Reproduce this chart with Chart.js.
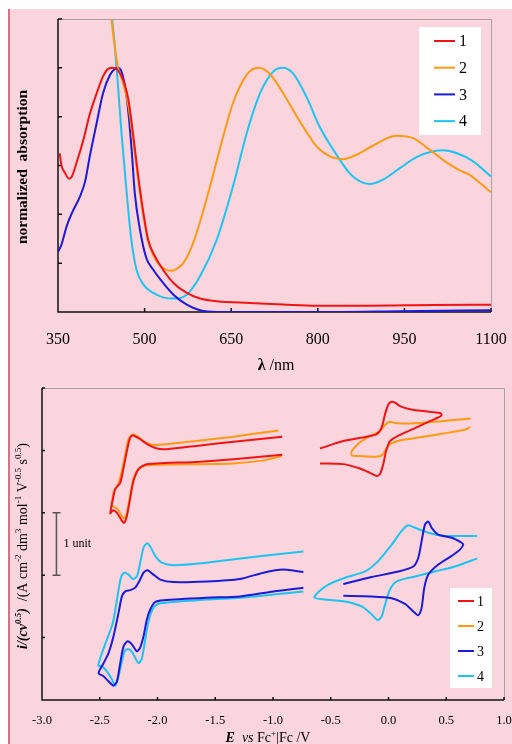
<!DOCTYPE html>
<html>
<head>
<meta charset="utf-8">
<script src="https://cdn.jsdelivr.net/npm/chart.js@4.4.1/dist/chart.umd.min.js"></script>
<style>
  html, body { margin: 0; padding: 0; background: #fff; }
  #page { position: relative; width: 512px; height: 744px; overflow: hidden; }
  #panel { position: absolute; left: 8px; top: 9px; right: 0; bottom: 0; background: #fad5dd; border-left: 2px solid #d87088; }
  .box { position: absolute; left: 0; width: 512px; height: 372px; }
</style>
</head>
<body>
<div id="page">
  <div id="panel"></div>
  <div class="box" style="top:0"><canvas id="absChart"></canvas></div>
  <div class="box" style="top:372px"><canvas id="cvChart"></canvas></div>
</div>
<script>
// ---- absorption spectra (wavelength / nm, normalized absorption) ----
const wl1 = [353, 356, 362, 369, 374, 382, 394, 405, 417, 428, 437, 445, 454, 463, 472, 480, 489, 498, 506, 518, 532, 550, 573, 596, 625, 682, 740, 798, 884, 1000, 1100];
const abs1 = [0.65, 0.60, 0.57, 0.546, 0.555, 0.61, 0.705, 0.81, 0.896, 0.965, 0.996, 1.0, 0.99, 0.95, 0.87, 0.73, 0.555, 0.405, 0.296, 0.228, 0.173, 0.119, 0.078, 0.055, 0.044, 0.037, 0.031, 0.026, 0.026, 0.029, 0.030];

const wl2 = [440, 446, 454, 463, 472, 480, 489, 498, 509, 521, 532, 544, 555, 567, 584, 607, 630, 653, 677, 697, 717, 740, 769, 798, 821, 844, 867, 896, 936, 965, 994, 1023, 1046, 1063, 1081, 1100];
const abs2 = [1.26, 1.13, 1.0, 0.937, 0.842, 0.705, 0.542, 0.392, 0.269, 0.207, 0.18, 0.169, 0.176, 0.20, 0.282, 0.46, 0.664, 0.855, 0.971, 1.0, 0.975, 0.896, 0.78, 0.678, 0.637, 0.626, 0.644, 0.682, 0.722, 0.712, 0.664, 0.613, 0.58, 0.562, 0.528, 0.49];

const wl3 = [350, 356, 365, 374, 388, 397, 405, 417, 428, 440, 449, 454, 460, 466, 472, 478, 483, 492, 503, 515, 532, 550, 573, 596, 625, 827, 942, 1100];
const abs3 = [0.246, 0.276, 0.351, 0.405, 0.473, 0.535, 0.637, 0.774, 0.896, 0.971, 0.996, 1.0, 0.985, 0.924, 0.814, 0.651, 0.487, 0.337, 0.221, 0.173, 0.119, 0.071, 0.030, 0.007, 0.0, 0.0, 0.003, 0.007];

const wl4 = [440, 449, 454, 460, 469, 477, 486, 498, 515, 532, 553, 573, 596, 625, 653, 677, 700, 723, 739, 757, 780, 803, 827, 855, 873, 890, 913, 942, 971, 1000, 1017, 1040, 1069, 1100];
const abs4 = [1.28, 1.074, 0.924, 0.733, 0.487, 0.296, 0.173, 0.112, 0.078, 0.06, 0.055, 0.071, 0.146, 0.296, 0.514, 0.733, 0.896, 0.985, 1.0, 0.977, 0.883, 0.76, 0.664, 0.569, 0.535, 0.524, 0.542, 0.589, 0.634, 0.658, 0.662, 0.651, 0.617, 0.555];

const wlTicks = [350, 500, 650, 800, 950, 1100];

// ---- cyclic voltammograms (E vs Fc+|Fc / V, i/(cv^0.5) in units) ----
const cvE1red = [-0.92, -1.34, -1.63, -1.92, -2.005, -2.09, -2.15, -2.21, -2.236, -2.265, -2.294, -2.323, -2.366, -2.386, -2.403, -2.409, -2.386, -2.351, -2.308, -2.288, -2.265, -2.236, -2.208, -2.164, -2.106, -2.005, -1.63, -1.34, -0.92];
const cvI1red = [4.22, 4.14, 4.08, 4.02, 4.03, 4.10, 4.18, 4.24, 4.21, 3.99, 3.72, 3.48, 3.38, 3.22, 3.06, 2.99, 3.04, 3.00, 2.87, 2.84, 2.95, 3.24, 3.51, 3.70, 3.77, 3.79, 3.82, 3.86, 3.93];
const cvE1ox = [-0.593, -0.391, -0.247, -0.160, -0.102, -0.074, -0.045, -0.021, 0.013, 0.100, 0.244, 0.359, 0.445, 0.460, 0.445, 0.301, 0.186, 0.100, 0.06, 0.028, 0.0, -0.030, -0.059, -0.102, -0.189, -0.391, -0.593];
const cvI1ox = [3.79, 3.78, 3.71, 3.64, 3.59, 3.62, 3.78, 3.99, 4.15, 4.25, 4.37, 4.47, 4.54, 4.57, 4.60, 4.63, 4.66, 4.71, 4.76, 4.78, 4.74, 4.58, 4.37, 4.26, 4.22, 4.15, 4.03];

const cvE2red = [-0.953, -1.343, -1.631, -1.919, -2.048, -2.121, -2.178, -2.213, -2.251, -2.279, -2.308, -2.337, -2.375, -2.394, -2.400, -2.380, -2.346, -2.314, -2.288, -2.265, -2.242, -2.213, -2.178, -2.121, -2.005, -1.631, -1.343, -1.083, -0.924];
const cvI2red = [4.32, 4.22, 4.16, 4.10, 4.09, 4.15, 4.23, 4.26, 4.18, 3.94, 3.67, 3.48, 3.35, 3.19, 3.11, 3.10, 3.06, 2.96, 2.91, 3.00, 3.22, 3.51, 3.67, 3.75, 3.77, 3.78, 3.79, 3.84, 3.91];
const cvE2ox = [0.711, 0.474, 0.186, 0.056, 0.013, -0.030, -0.074, -0.160, -0.247, -0.318, -0.318, -0.247, -0.102, -0.059, -0.030, 0.013, 0.100, 0.273, 0.474, 0.677, 0.705];
const cvI2ox = [4.51, 4.47, 4.43, 4.44, 4.46, 4.41, 4.31, 4.23, 4.13, 3.99, 3.92, 3.91, 3.90, 3.92, 3.99, 4.10, 4.16, 4.21, 4.27, 4.34, 4.38];

const cvE3red = [-0.737, -0.910, -1.083, -1.285, -1.573, -1.862, -1.977, -2.035, -2.086, -2.121, -2.150, -2.193, -2.236, -2.279, -2.308, -2.337, -2.381, -2.424, -2.467, -2.510, -2.467, -2.424, -2.381, -2.351, -2.323, -2.294, -2.259, -2.221, -2.178, -2.150, -2.121, -2.092, -2.063, -2.020, -1.948, -1.573, -1.285, -0.997, -0.737];
const cvI3red = [2.05, 2.09, 2.04, 1.94, 1.90, 1.89, 1.93, 2.01, 2.08, 2.04, 1.93, 1.80, 1.76, 1.74, 1.66, 1.40, 1.02, 0.75, 0.59, 0.43, 0.38, 0.30, 0.23, 0.30, 0.59, 0.86, 0.94, 0.89, 0.78, 0.84, 1.02, 1.29, 1.45, 1.57, 1.60, 1.64, 1.66, 1.74, 1.80];
const cvE3ox = [-0.391, -0.145, 0.028, 0.143, 0.215, 0.258, 0.287, 0.310, 0.345, 0.431, 0.547, 0.619, 0.647, 0.633, 0.547, 0.431, 0.374, 0.345, 0.316, 0.287, 0.258, 0.215, 0.085, -0.145, -0.391];
const cvI3ox = [1.67, 1.66, 1.63, 1.54, 1.42, 1.36, 1.48, 1.80, 2.01, 2.17, 2.31, 2.41, 2.49, 2.52, 2.60, 2.65, 2.76, 2.86, 2.81, 2.55, 2.28, 2.14, 2.06, 1.97, 1.86];

const cvE4red = [-0.737, -1.140, -1.573, -1.862, -1.962, -2.020, -2.063, -2.092, -2.121, -2.150, -2.178, -2.213, -2.251, -2.288, -2.317, -2.351, -2.386, -2.438, -2.481, -2.513, -2.481, -2.438, -2.394, -2.366, -2.337, -2.308, -2.279, -2.242, -2.208, -2.164, -2.135, -2.106, -2.078, -2.035, -1.977, -1.573, -1.285, -0.997, -0.737];
const cvI4red = [2.38, 2.30, 2.20, 2.16, 2.20, 2.31, 2.46, 2.51, 2.44, 2.20, 1.98, 1.94, 2.01, 2.04, 1.96, 1.61, 1.24, 0.97, 0.75, 0.55, 0.54, 0.46, 0.33, 0.23, 0.38, 0.62, 0.80, 0.81, 0.73, 0.59, 0.67, 0.97, 1.26, 1.48, 1.55, 1.61, 1.64, 1.69, 1.74];
const cvE4ox = [0.768, 0.575, 0.402, 0.229, 0.071, 0.013, -0.030, -0.059, -0.093, -0.145, -0.232, -0.376, -0.549, -0.642, -0.607, -0.521, -0.376, -0.203, -0.088, 0.028, 0.114, 0.171, 0.229, 0.345, 0.489, 0.768];
const cvI4ox = [2.27, 2.14, 2.06, 1.98, 1.90, 1.77, 1.53, 1.34, 1.28, 1.37, 1.50, 1.58, 1.61, 1.64, 1.73, 1.85, 1.96, 2.06, 2.23, 2.49, 2.71, 2.80, 2.76, 2.68, 2.63, 2.63];

const eTicks = [-3.0, -2.5, -2.0, -1.5, -1.0, -0.5, 0.0, 0.5, 1.0];

const labels = ['1', '2', '3', '4'];
const colors = ['#f01414', '#ff9a14', '#1a1ad8', '#1ec4f0'];

const SERIF = '"Liberation Serif", "DejaVu Serif", serif';

function pts(xs, ys) {
  return xs.map((x, i) => ({ x: x, y: ys[i] }));
}

// draw a line of text made of runs (font / superscript), optionally rotated
function drawRuns(ctx, runs, x, y, rotate) {
  ctx.save();
  ctx.translate(x, y);
  if (rotate) ctx.rotate(-Math.PI / 2);
  let total = 0;
  runs.forEach(r => { ctx.font = r.font; total += ctx.measureText(r.t).width; });
  let cx = -total / 2;
  ctx.textBaseline = 'alphabetic';
  ctx.textAlign = 'left';
  ctx.fillStyle = '#000';
  runs.forEach(r => {
    ctx.font = r.font;
    ctx.fillText(r.t, cx, -(r.sup || 0));
    cx += ctx.measureText(r.t).width;
  });
  ctx.restore();
}

// axes box: black left/bottom, grey top/right, ticks pointing inward
const framePlugin = {
  id: 'frame',
  beforeDatasetsDraw(chart, args, opts) {
    const { ctx, chartArea: a, scales } = chart;
    ctx.save();
    ctx.strokeStyle = '#a8a0a4';
    ctx.lineWidth = 1;
    ctx.beginPath();
    ctx.moveTo(a.left, a.top + 0.5);
    ctx.lineTo(a.right + 0.5, a.top + 0.5);
    ctx.lineTo(a.right + 0.5, a.bottom);
    ctx.stroke();
    ctx.strokeStyle = '#111';
    ctx.lineWidth = 1.5;
    ctx.beginPath();
    ctx.moveTo(a.left, a.top);
    ctx.lineTo(a.left, a.bottom);
    ctx.lineTo(a.right, a.bottom);
    scales.x.ticks.forEach(t => {
      const px = scales.x.getPixelForValue(t.value);
      ctx.moveTo(px, a.bottom);
      ctx.lineTo(px, a.bottom - opts.tick);
    });
    scales.y.ticks.forEach(t => {
      const py = scales.y.getPixelForValue(t.value);
      ctx.moveTo(a.left, py);
      ctx.lineTo(a.left + opts.tick, py);
    });
    ctx.stroke();
    ctx.restore();
  },
  afterDraw(chart, args, opts) {
    const ctx = chart.ctx;
    // legend box
    const L = opts.legend;
    ctx.save();
    ctx.fillStyle = '#fff';
    ctx.fillRect(L.x, L.y, L.w, L.h);
    labels.forEach((lab, i) => {
      const ly = L.y + L.first + i * L.step;
      ctx.strokeStyle = colors[i];
      ctx.lineWidth = 2;
      ctx.beginPath();
      ctx.moveTo(L.x + L.lx0, ly);
      ctx.lineTo(L.x + L.lx1, ly);
      ctx.stroke();
      ctx.fillStyle = '#000';
      ctx.font = L.font;
      ctx.textBaseline = 'middle';
      ctx.fillText(lab, L.x + L.tx, ly + 1);
    });
    ctx.restore();
    if (opts.extra) opts.extra(chart);
    opts.titles.forEach(tt => drawRuns(ctx, tt.runs, tt.x, tt.y, tt.rotate));
  }
};

const tickFont = (size) => ({ family: SERIF, size: size });

// ---------------- top chart ----------------
const absSets = [[wl1, abs1], [wl2, abs2], [wl3, abs3], [wl4, abs4]].map((d, i) => ({
  label: labels[i],
  data: pts(d[0], d[1]),
  borderColor: colors[i],
  borderWidth: 2,
  pointRadius: 0,
  showLine: true,
  cubicInterpolationMode: 'monotone',
  fill: false
}));

new Chart(document.getElementById('absChart'), {
  type: 'scatter',
  data: { datasets: absSets },
  options: {
    responsive: true,
    maintainAspectRatio: false,
    animation: false,
    events: [],
    layout: { padding: { left: 58, right: 21, top: 19, bottom: 0 } },
    plugins: {
      legend: { display: false },
      tooltip: { enabled: false },
      frame: {
        tick: 4,
        legend: { x: 419, y: 27, w: 62, h: 108, first: 14, step: 26.7, lx0: 15, lx1: 36, tx: 40, font: '16px ' + SERIF },
        titles: [
          { runs: [{ t: 'λ', font: 'bold 16px ' + SERIF }, { t: ' /nm', font: '16px ' + SERIF }], x: 276, y: 370 },
          { runs: [{ t: 'normalized  absorption', font: 'bold 15.5px ' + SERIF }], x: 27, y: 167, rotate: true }
        ]
      }
    },
    scales: {
      x: {
        type: 'linear',
        min: 350, max: 1100,
        afterBuildTicks: s => { s.ticks = wlTicks.map(v => ({ value: v })); },
        afterFit: s => { s.height = 60; s.paddingLeft = 0; s.paddingRight = 0; },
        grid: { display: false },
        border: { display: false },
        ticks: { font: tickFont(16), color: '#000', padding: 10, maxRotation: 0, callback: v => String(v) }
      },
      y: {
        min: 0, max: 1.2,
        ticks: { stepSize: 0.2, display: false },
        afterFit: s => { s.width = 0; },
        grid: { display: false },
        border: { display: false }
      }
    }
  },
  plugins: [framePlugin]
});

// ---------------- bottom chart ----------------
const cvSegments = [
  [0, cvE1red, cvI1red], [0, cvE1ox, cvI1ox],
  [1, cvE2red, cvI2red], [1, cvE2ox, cvI2ox],
  [2, cvE3red, cvI3red], [2, cvE3ox, cvI3ox],
  [3, cvE4red, cvI4red], [3, cvE4ox, cvI4ox]
];
const cvSets = cvSegments.map(s => ({
  label: labels[s[0]],
  data: pts(s[1], s[2]),
  borderColor: colors[s[0]],
  borderWidth: 2,
  pointRadius: 0,
  showLine: true,
  tension: 0.25,
  fill: false
}));

new Chart(document.getElementById('cvChart'), {
  type: 'scatter',
  data: { datasets: cvSets },
  options: {
    responsive: true,
    maintainAspectRatio: false,
    animation: false,
    events: [],
    layout: { padding: { left: 42, right: 8, top: 16, bottom: 0 } },
    plugins: {
      legend: { display: false },
      tooltip: { enabled: false },
      frame: {
        tick: 3,
        legend: { x: 450, y: 216, w: 42, h: 100, first: 13, step: 25, lx0: 8, lx1: 24, tx: 27, font: '14px ' + SERIF },
        extra: chart => {
          // "1 unit" scale bar
          const { ctx, scales: { x, y } } = chart;
          const bx = x.getPixelForValue(-2.875);
          const y0 = y.getPixelForValue(3), y1 = y.getPixelForValue(2);
          ctx.save();
          ctx.strokeStyle = '#555';
          ctx.lineWidth = 1.5;
          ctx.beginPath();
          ctx.moveTo(bx, y0); ctx.lineTo(bx, y1);
          ctx.moveTo(bx - 4, y0); ctx.lineTo(bx + 4, y0);
          ctx.moveTo(bx - 4, y1); ctx.lineTo(bx + 4, y1);
          ctx.stroke();
          ctx.fillStyle = '#000';
          ctx.font = '12px ' + SERIF;
          ctx.textBaseline = 'middle';
          ctx.fillText('1 unit', bx + 7, (y0 + y1) / 2);
          ctx.restore();
        },
        titles: [
          { runs: [
              { t: 'E', font: 'italic bold 14px ' + SERIF },
              { t: '  vs ', font: 'italic 14px ' + SERIF },
              { t: 'Fc', font: '14px ' + SERIF },
              { t: '+', font: '9px ' + SERIF, sup: 6 },
              { t: '|Fc /V', font: '14px ' + SERIF }
            ], x: 268, y: 370 },
          { runs: [
              { t: 'i/(cv', font: 'italic bold 14px ' + SERIF },
              { t: '0.5', font: 'italic bold 9px ' + SERIF, sup: 6 },
              { t: ')', font: 'italic bold 14px ' + SERIF },
              { t: '  /(A cm', font: '14px ' + SERIF },
              { t: '-2', font: '9px ' + SERIF, sup: 6 },
              { t: ' dm', font: '14px ' + SERIF },
              { t: '3', font: '9px ' + SERIF, sup: 6 },
              { t: ' mol', font: '14px ' + SERIF },
              { t: '-1', font: '9px ' + SERIF, sup: 6 },
              { t: ' V', font: '14px ' + SERIF },
              { t: '-0.5', font: '9px ' + SERIF, sup: 6 },
              { t: ' s', font: '14px ' + SERIF },
              { t: '0.5', font: '9px ' + SERIF, sup: 6 },
              { t: ')', font: '14px ' + SERIF }
            ], x: 27, y: 174, rotate: true }
        ]
      }
    },
    scales: {
      x: {
        type: 'linear',
        min: -3, max: 1,
        afterBuildTicks: s => { s.ticks = eTicks.map(v => ({ value: v })); },
        afterFit: s => { s.height = 44; s.paddingLeft = 0; s.paddingRight = 0; },
        grid: { display: false },
        border: { display: false },
        ticks: { font: tickFont(12.5), color: '#000', padding: 5, maxRotation: 0, callback: v => v.toFixed(1) }
      },
      y: {
        min: 0, max: 5,
        ticks: { stepSize: 1, display: false },
        afterFit: s => { s.width = 0; },
        grid: { display: false },
        border: { display: false }
      }
    }
  },
  plugins: [framePlugin]
});
</script>
</body>
</html>
